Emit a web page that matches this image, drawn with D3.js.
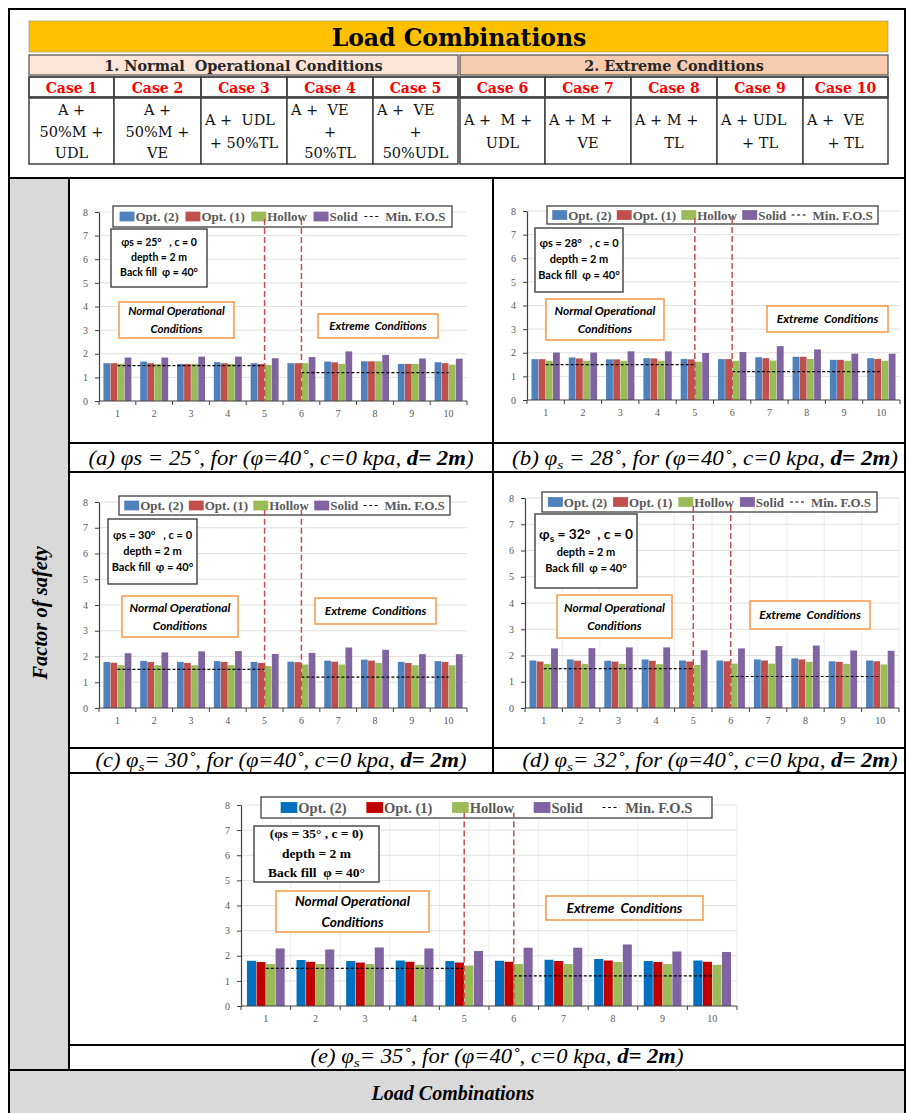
<!DOCTYPE html>
<html>
<head>
<meta charset="utf-8">
<script src="https://cdn.jsdelivr.net/npm/d3@7"></script>
<style>
  body { margin: 0; background: #fff; }
  text { white-space: pre; }
</style>
</head>
<body>
<div id="chart"></div>
<script>
// ---- data ----
const cases = [1, 2, 3, 4, 5, 6, 7, 8, 9, 10];
const caseLabels = cases.map(c => "Case " + c);
const caseFormulas = [
  ["A +", "50%M +", "UDL"],
  ["A +", "50%M +", "VE"],
  ["A +  UDL", "+ 50%TL"],
  ["A +  VE", "+", "50%TL"],
  ["A +  VE", "+", "50%UDL"],
  ["A +  M +", "UDL"],
  ["A + M +", "VE"],
  ["A + M +", "TL"],
  ["A + UDL", "+ TL"],
  ["A +  VE", "+ TL"]
];
const groupTitles = ["1. Normal  Operational Conditions", "2. Extreme Conditions"];
const seriesNames = ["Opt. (2)", "Opt. (1)", "Hollow", "Solid"];
const minFosLabel = "Min. F.O.S";
const minFos = [1.5, 1.2];          // normal cases 1-5, extreme cases 6-10
const yTicks = [0, 1, 2, 3, 4, 5, 6, 7, 8];
const panelIds = ["a", "b", "c", "d", "e"];
const phiS = [25, 28, 30, 32, 35];

// factor of safety, one row per panel (a..e), one value per case
const opt2 = [
  [1.60, 1.67, 1.57, 1.64, 1.60, 1.60, 1.67, 1.68, 1.57, 1.64],
  [1.73, 1.80, 1.72, 1.77, 1.74, 1.73, 1.81, 1.83, 1.70, 1.77],
  [1.79, 1.83, 1.79, 1.82, 1.79, 1.80, 1.84, 1.88, 1.79, 1.82],
  [1.81, 1.85, 1.80, 1.85, 1.81, 1.81, 1.85, 1.89, 1.78, 1.81],
  [1.80, 1.83, 1.79, 1.81, 1.79, 1.80, 1.84, 1.87, 1.79, 1.81]
];
const opt1 = [
  [1.60, 1.60, 1.57, 1.60, 1.57, 1.60, 1.64, 1.68, 1.57, 1.60],
  [1.73, 1.76, 1.72, 1.76, 1.72, 1.73, 1.77, 1.83, 1.70, 1.74],
  [1.76, 1.79, 1.75, 1.79, 1.75, 1.78, 1.80, 1.84, 1.75, 1.79],
  [1.77, 1.80, 1.77, 1.80, 1.77, 1.78, 1.81, 1.85, 1.76, 1.78],
  [1.75, 1.76, 1.73, 1.76, 1.73, 1.76, 1.79, 1.81, 1.75, 1.76]
];
const hollow = [
  [1.58, 1.57, 1.57, 1.57, 1.53, 1.60, 1.57, 1.68, 1.57, 1.54],
  [1.66, 1.66, 1.66, 1.66, 1.62, 1.66, 1.67, 1.74, 1.66, 1.66],
  [1.66, 1.66, 1.66, 1.66, 1.63, 1.69, 1.69, 1.75, 1.66, 1.66],
  [1.68, 1.68, 1.68, 1.67, 1.64, 1.69, 1.69, 1.76, 1.68, 1.66],
  [1.67, 1.67, 1.67, 1.64, 1.61, 1.67, 1.67, 1.75, 1.67, 1.64]
];
const solid = [
  [1.84, 1.84, 1.88, 1.88, 1.81, 1.86, 2.10, 1.95, 1.80, 1.79],
  [2.01, 2.01, 2.06, 2.06, 1.99, 2.03, 2.28, 2.14, 1.96, 1.96],
  [2.13, 2.16, 2.20, 2.21, 2.10, 2.14, 2.35, 2.26, 2.09, 2.09],
  [2.27, 2.28, 2.31, 2.31, 2.20, 2.27, 2.36, 2.38, 2.19, 2.18],
  [2.29, 2.25, 2.33, 2.29, 2.19, 2.32, 2.32, 2.45, 2.17, 2.15]
];

const infoText = [
  ["φs = 25°   , c = 0", "depth = 2 m", "Back fill  φ = 40°"],
  ["φs = 28°   , c = 0", "depth = 2 m", "Back fill  φ = 40°"],
  ["φs = 30°   , c = 0", "depth = 2 m", "Back fill  φ = 40°"],
  ["φs = 32°  , c = 0", "depth = 2 m", "Back fill  φ = 40°"],
  ["(φs = 35° , c = 0)", "depth = 2 m", "Back fill  φ = 40°"]
];
const normalLabel = ["Normal Operational", "Conditions"];
const extremeLabel = "Extreme  Conditions";

// ---- layout ----
const W = 907, H = 1113;
const palettes = [
  ["#4f81bd", "#c0504d", "#9bbb59", "#8064a2"],
  ["#0070c0", "#c00000", "#9bbb59", "#8064a2"]
];
const panels = [
  { plot: [99, 212, 467, 401], legend: [113, 206, 452, 227], info: [111, 229, 207, 287], normal: [119, 302, 234, 338], extreme: [318, 314, 438, 338], cap: [281, 465, 385], fs: 10.5, lfs: 13, pal: 0, vgrid: false, capSub: false, capGap: " " },
  { plot: [527, 211, 900, 400], legend: [547, 206, 878, 224], info: [535, 228, 623, 292], normal: [546, 299, 664, 340], extreme: [767, 306, 888, 332], cap: [705, 465, 386], fs: 11, lfs: 13, pal: 0, vgrid: false, capSub: true, capGap: " " },
  { plot: [99, 502, 467, 708], legend: [119, 496, 450, 515], info: [108, 519, 197, 584], normal: [122, 596, 238, 637], extreme: [315, 598, 436, 624], cap: [281, 767, 371], fs: 11, lfs: 13, pal: 0, vgrid: false, capSub: true, capGap: "" },
  { plot: [525, 498, 899, 708], legend: [542, 492, 877, 512], info: [535, 514, 637, 588], normal: [557, 595, 672, 638], extreme: [750, 601, 870, 629], cap: [710, 767, 375], fs: 11, lfs: 13, pal: 0, vgrid: true, capSub: true, capGap: "", bigFirst: true },
  { plot: [241, 805, 737, 1006], legend: [261, 797, 712, 818], info: [254, 826, 379, 882], normal: [276, 891, 429, 932], extreme: [546, 896, 703, 920], cap: [497, 1063, 373], fs: 12.5, lfs: 14.5, pal: 1, vgrid: true, capSub: true, capGap: "", serifInfo: true }
];

const serif = "'Liberation Serif', 'Times New Roman', serif";
const hdrFont = "'DejaVu Serif', serif";
const sans = "Lato, 'Open Sans', sans-serif";

const svg = d3.select("#chart").append("svg")
  .attr("width", W).attr("height", H)
  .attr("font-family", serif);

// ---- header table ----
const colEdges = [[29, 114, 201, 287, 373, 458], [460, 545, 631, 717, 803, 888]];
svg.append("rect").attr("x", 29).attr("y", 21).attr("width", 859).attr("height", 31)
  .attr("fill", "#ffc000").attr("stroke", "#8c8c8c").attr("stroke-width", 0.6);
svg.append("text").attr("x", 459).attr("y", 45.5).attr("text-anchor", "middle")
  .attr("font-family", hdrFont).attr("font-weight", "bold").attr("font-size", 23.5)
  .text("Load Combinations");

groupTitles.forEach((title, gi) => {
  const e = colEdges[gi];
  svg.append("rect").attr("x", e[0]).attr("y", 55).attr("width", e[5] - e[0]).attr("height", 20)
    .attr("fill", gi ? "#f8cbad" : "#fce4d6").attr("stroke", "#595959").attr("stroke-width", 1.3);
  svg.append("text").attr("x", (e[0] + e[5]) / 2).attr("y", 70.5).attr("text-anchor", "middle")
    .attr("font-family", hdrFont).attr("font-weight", "bold").attr("font-size", 14.4).attr("fill", "#262626")
    .text(title);
  for (let k = 0; k < 5; k++) {
    const ci = gi * 5 + k;
    const xa = e[k], xb = e[k + 1];
    svg.append("rect").attr("x", xa).attr("y", 77).attr("width", xb - xa).attr("height", 20)
      .attr("fill", "#fff").attr("stroke", "#404040").attr("stroke-width", 1.8);
    svg.append("text").attr("x", (xa + xb) / 2).attr("y", 92.5).attr("text-anchor", "middle")
      .attr("font-family", hdrFont).attr("font-weight", "bold").attr("font-size", 14).attr("fill", "#ff0000")
      .text(caseLabels[ci]);
    svg.append("rect").attr("x", xa).attr("y", 98).attr("width", xb - xa).attr("height", 66)
      .attr("fill", "#fff").attr("stroke", "#404040").attr("stroke-width", 1.5);
    const lines = caseFormulas[ci];
    const base = lines.length === 3 ? [115, 137, 158] : [125, 148];
    lines.forEach((ln, li) => {
      const left = li === 0 && ci > 1;
      svg.append("text")
        .attr("x", left ? xa + 4 : (xa + xb) / 2).attr("y", base[li])
        .attr("text-anchor", left ? "start" : "middle")
        .attr("font-family", hdrFont).attr("font-size", 14.5).attr("fill", "#111")
        .text(ln);
    });
  }
});

// ---- frame ----
svg.append("rect").attr("x", 9).attr("y", 178).attr("width", 60).attr("height", 892).attr("fill", "#d9d9d9");
svg.append("rect").attr("x", 9).attr("y", 1070).attr("width", 896).attr("height", 50).attr("fill", "#d9d9d9");
const frame = svg.append("g").attr("stroke", "#000").attr("stroke-width", 2).attr("fill", "none");
frame.append("rect").attr("x", 9).attr("y", 9).attr("width", 896).attr("height", 1120);
[[9, 178, 905, 178], [69, 443, 905, 443], [69, 472, 905, 472], [69, 748, 905, 748], [69, 773, 905, 773],
 [69, 1045, 905, 1045], [9, 1070, 905, 1070], [69, 178, 69, 1070], [493, 178, 493, 773]]
  .forEach(([a, b, c, d]) => frame.append("line").attr("x1", a).attr("y1", b).attr("x2", c).attr("y2", d));

svg.append("text").attr("transform", "translate(47,613) rotate(-90)").attr("text-anchor", "middle")
  .attr("font-weight", "bold").attr("font-style", "italic").attr("font-size", 20.5).text("Factor of safety");
svg.append("text").attr("x", 453).attr("y", 1100).attr("text-anchor", "middle")
  .attr("font-weight", "bold").attr("font-style", "italic").attr("font-size", 20).text("Load Combinations");

// ---- helpers ----
function phiLine(sel, str, size, sub) {
  // render "φs" with subscript s when asked
  if (sub && str.includes("φs")) {
    const [pre, post] = str.split("φs");
    sel.append("tspan").text(pre + "φ");
    sel.append("tspan").attr("font-size", size * 0.75).attr("dy", size * 0.25).text("s");
    sel.append("tspan").attr("dy", -size * 0.25).text(post);
  } else {
    sel.text(str);
  }
}

function drawPanel(p, pi) {
  const g = svg.append("g");
  const [x0, y0, x1, y1] = p.plot;
  const colors = palettes[p.pal];
  const x = d3.scaleBand().domain(cases).range([x0, x1]).paddingInner(0.24).paddingOuter(0.12);
  const xs = d3.scaleBand().domain(d3.range(seriesNames.length)).range([0, x.bandwidth()]).paddingInner(0.05);
  const y = d3.scaleLinear().domain([0, 8]).range([y1, y0]);
  const edges = d3.range(cases.length + 1).map(k => x0 + k * x.step());
  const cx = c => x(c) + x.bandwidth() / 2;

  // grid
  g.append("g").selectAll("line").data(yTicks.slice(1)).join("line")
    .attr("x1", x0).attr("x2", x1).attr("y1", d => y(d)).attr("y2", d => y(d))
    .attr("stroke", "#d9d9d9").attr("stroke-width", 0.8);
  if (p.vgrid) {
    g.append("g").selectAll("line").data(edges.slice(1)).join("line")
      .attr("x1", d => d).attr("x2", d => d).attr("y1", y(8)).attr("y2", y(0))
      .attr("stroke", "#e8e8e8").attr("stroke-width", 0.8);
  }

  // bars
  [opt2[pi], opt1[pi], hollow[pi], solid[pi]].forEach((vals, si) => {
    g.append("g").selectAll("rect").data(vals).join("rect")
      .attr("x", (d, i) => x(cases[i]) + xs(si))
      .attr("y", d => y(d))
      .attr("width", xs.bandwidth())
      .attr("height", d => y(0) - y(d))
      .attr("fill", colors[si]);
  });

  // axes
  const ya = g.append("g").attr("transform", `translate(${x0},0)`)
    .call(d3.axisLeft(y).tickValues(yTicks).tickSize(4).tickSizeOuter(0).tickPadding(7));
  ya.select(".domain").attr("stroke", "#404040").attr("stroke-width", 1.2);
  ya.selectAll(".tick line").attr("stroke", "#404040");
  ya.selectAll(".tick text").attr("font-family", serif).attr("font-size", 10).attr("fill", "#595959");

  const xa = g.append("g").attr("transform", `translate(0,${y1})`)
    .call(d3.axisBottom(x).tickSize(0).tickPadding(9));
  xa.select(".domain").remove();
  xa.selectAll(".tick text").attr("font-family", serif).attr("font-size", 10).attr("fill", "#595959");
  g.append("line").attr("x1", x0).attr("x2", x1).attr("y1", y1).attr("y2", y1)
    .attr("stroke", "#404040").attr("stroke-width", 1.2);
  g.append("g").selectAll("line").data(edges).join("line")
    .attr("x1", d => d).attr("x2", d => d).attr("y1", y1).attr("y2", y1 + 4)
    .attr("stroke", "#404040");

  // minimum factor of safety
  const fosSegs = [[cases[0], cases[4], minFos[0]], [cases[5], cases[9], minFos[1]]];
  g.append("g").selectAll("line").data(fosSegs).join("line")
    .attr("x1", d => cx(d[0])).attr("x2", d => cx(d[1]))
    .attr("y1", d => y(d[2])).attr("y2", d => y(d[2]))
    .attr("stroke", "#000").attr("stroke-width", 1.2).attr("stroke-dasharray", "3,2");

  // legend
  const [lx0, ly0, lx1, ly1] = p.legend;
  const lg = g.append("g");
  lg.append("rect").attr("x", lx0).attr("y", ly0).attr("width", lx1 - lx0).attr("height", ly1 - ly0)
    .attr("fill", "#fff").attr("stroke", "#404040").attr("stroke-width", 1.3);
  const items = seriesNames.map((n, i) => ({ name: n, color: colors[i] }))
    .concat([{ name: minFosLabel, dash: true }]);
  const sw = p.lfs * 1.15, sh = p.lfs * 0.75;
  const nodes = items.map(it => {
    const ig = lg.append("g");
    if (it.dash) {
      ig.append("line").attr("x1", 0).attr("x2", sw).attr("stroke", "#000")
        .attr("stroke-width", 1.2).attr("stroke-dasharray", "3,2.5");
    } else {
      ig.append("rect").attr("y", -sh / 2).attr("width", sw).attr("height", sh).attr("fill", it.color);
    }
    const off = it.dash ? 6 : 1;
    const t = ig.append("text").attr("x", sw + off).attr("dy", "0.35em")
      .attr("font-size", p.lfs).attr("font-weight", "bold").attr("fill", "#595959").text(it.name);
    return { ig, w: sw + off + t.node().getComputedTextLength() };
  });
  const gap = (lx1 - lx0 - d3.sum(nodes, n => n.w)) / (nodes.length + 1);
  let pos = lx0 + gap;
  nodes.forEach(n => { n.ig.attr("transform", `translate(${pos},${(ly0 + ly1) / 2})`); pos += n.w + gap; });

  // info box
  const [ix0, iy0, ix1, iy1] = p.info;
  g.append("rect").attr("x", ix0).attr("y", iy0).attr("width", ix1 - ix0).attr("height", iy1 - iy0)
    .attr("fill", "#fff").attr("stroke", "#404040").attr("stroke-width", 1.4);
  const lines = infoText[pi];
  const sizes = lines.map((_, li) => p.serifInfo ? p.fs + 1 : (p.bigFirst && li === 0 ? p.fs * 1.25 : p.fs));
  const gaps = sizes.map(s => s * 1.45);
  const totalH = d3.sum(gaps);
  let by = (iy0 + iy1) / 2 - totalH / 2;
  lines.forEach((ln, li) => {
    by += gaps[li];
    const t = g.append("text").attr("x", (ix0 + ix1) / 2).attr("y", by - gaps[li] * 0.3)
      .attr("text-anchor", "middle").attr("font-weight", "bold").attr("font-size", sizes[li])
      .attr("font-family", p.serifInfo ? serif : sans).attr("fill", "#000");
    phiLine(t, ln, sizes[li], p.bigFirst && li === 0);
  });

  // condition boxes
  const boxStyle = (r) => g.append("rect").attr("x", r[0]).attr("y", r[1]).attr("width", r[2] - r[0]).attr("height", r[3] - r[1])
    .attr("fill", "#fff").attr("stroke", "#f79646").attr("stroke-width", 1.5);
  const bfs = p.fs + (p.pal ? 1.2 : 1);
  boxStyle(p.normal);
  const ncy = (p.normal[1] + p.normal[3]) / 2;
  normalLabel.forEach((ln, li) => {
    g.append("text").attr("x", (p.normal[0] + p.normal[2]) / 2).attr("y", ncy + (li - 0.5) * bfs * 1.5 + bfs * 0.35)
      .attr("text-anchor", "middle").attr("font-family", sans).attr("font-weight", "bold").attr("font-style", "italic")
      .attr("font-size", bfs).attr("fill", "#000").text(ln);
  });
  boxStyle(p.extreme);
  g.append("text").attr("x", (p.extreme[0] + p.extreme[2]) / 2).attr("y", (p.extreme[1] + p.extreme[3]) / 2 + bfs * 0.35)
    .attr("text-anchor", "middle").attr("font-family", sans).attr("font-weight", "bold").attr("font-style", "italic")
    .attr("font-size", bfs).attr("fill", "#000").text(extremeLabel);

  // separators between normal and extreme cases
  g.append("g").selectAll("line").data([cases[4], cases[5]]).join("line")
    .attr("x1", d => cx(d)).attr("x2", d => cx(d)).attr("y1", y(7.7)).attr("y2", y(0))
    .attr("stroke", "#c0504d").attr("stroke-width", 1.5).attr("stroke-dasharray", "6,3");

  // caption
  const cap = g.append("text").attr("x", p.cap[0]).attr("y", p.cap[1]).attr("text-anchor", "middle")
    .attr("font-style", "italic").attr("font-size", 20).attr("fill", "#000")
    .attr("textLength", p.cap[2]).attr("lengthAdjust", "spacingAndGlyphs");
  if (p.capSub) {
    cap.append("tspan").text(`(${panelIds[pi]}) φ`);
    cap.append("tspan").attr("font-size", 13.5).attr("dy", 4).text("s");
    cap.append("tspan").attr("dy", -4).text(`${p.capGap}= ${phiS[pi]}˚, for (φ=40˚, c=0 kpa, `);
  } else {
    cap.append("tspan").text(`(${panelIds[pi]}) φs = ${phiS[pi]}˚, for (φ=40˚, c=0 kpa, `);
  }
  cap.append("tspan").attr("font-weight", "bold").text("d= 2m");
  cap.append("tspan").text(")");
}

panels.forEach(drawPanel);
</script>
</body>
</html>
